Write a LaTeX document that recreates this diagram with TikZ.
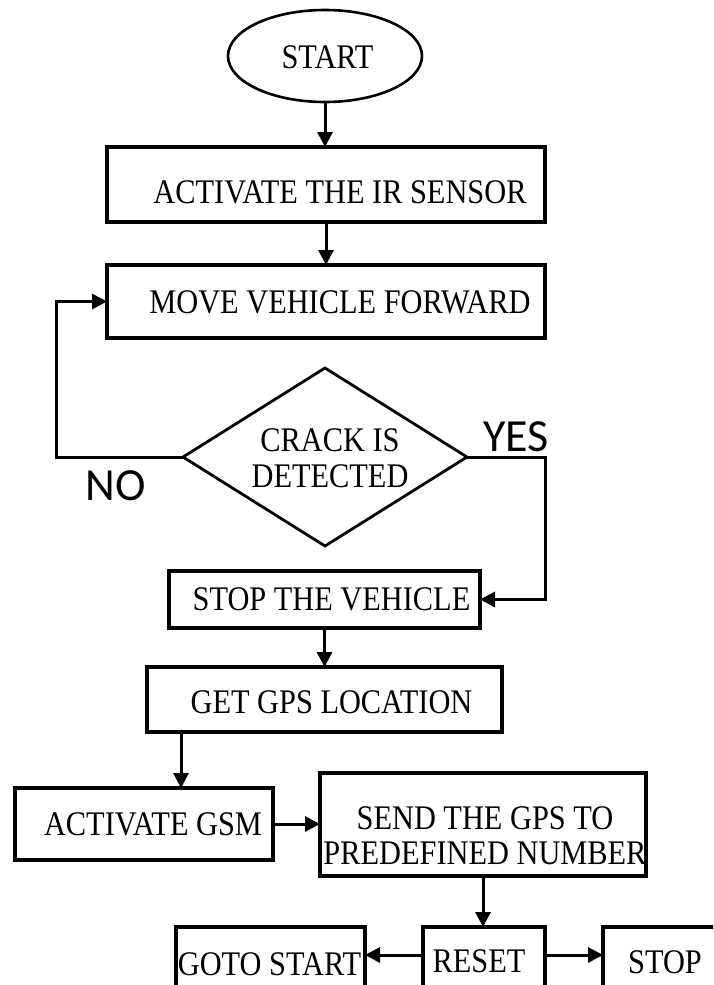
\documentclass[tikz,border=0pt]{standalone}
\usepackage{fontspec}
\setmainfont{Liberation Serif}[FakeStretch=0.88]
\newfontfamily\yesnofont{Carlito}
\usetikzlibrary{shapes.geometric,arrows.meta}
\begin{document}
\begin{tikzpicture}[x=1pt,y=-1pt,
  box/.style={draw,line width=3.2pt,rectangle,inner sep=0pt,outer sep=0pt},
  lbl/.style={font=\fontsize{34.5}{35.5}\selectfont,inner sep=0pt,align=center},
  arr/.style={line width=3pt,-{Triangle[length=15pt,width=15pt]}},
  yn/.style={font=\yesnofont\fontsize{46}{48}\selectfont,inner sep=0pt}]
\useasboundingbox (0,0) rectangle (713,985);
\clip (0,0) rectangle (713,985);

\node[draw,ellipse,line width=2.6pt,minimum width=194pt,minimum height=92pt,inner sep=0pt,outer sep=0pt,
  label={[lbl,xshift=2.5pt,yshift=-1.5pt]center:START}] (start) at (325,56) {};
\node[box,minimum width=438pt,minimum height=75pt,
  label={[lbl,xshift=14pt,yshift=-8pt]center:ACTIVATE THE IR SENSOR}] (ir) at (326,184.5) {};
\node[box,minimum width=438pt,minimum height=73pt,
  label={[lbl,xshift=14pt,yshift=-1pt]center:MOVE VEHICLE FORWARD}] (move) at (326,301.5) {};
\node[draw,diamond,line width=2.8pt,minimum width=284pt,minimum height=178pt,inner sep=0pt,outer sep=0pt,
  label={[lbl,xshift=5pt,yshift=-1pt]center:CRACK IS\\DETECTED}] (dec) at (325,457) {};
\node[box,minimum width=311pt,minimum height=57pt,
  label={[lbl,xshift=7pt]center:STOP THE VEHICLE}] (stopv) at (324.5,599.5) {};
\node[box,minimum width=355pt,minimum height=65pt,
  label={[lbl,xshift=7pt,yshift=-2.5pt]center:GET GPS LOCATION}] (gps) at (324.5,699.5) {};
\node[box,minimum width=258pt,minimum height=72pt,
  label={[lbl,xshift=9pt]center:ACTIVATE GSM}] (gsm) at (144,824) {};
\node[box,minimum width=326pt,minimum height=103pt,
  label={[lbl,xshift=2pt,yshift=-11pt]center:SEND THE GPS TO\\PREDEFINED NUMBER}] (send) at (483,824.5) {};
\node[box,minimum width=189pt,minimum height=72pt,
  label={[lbl,xshift=-1pt,yshift=-1pt]center:GOTO START}] (goto) at (270.5,963) {};
\node[box,minimum width=122pt,minimum height=72pt,
  label={[lbl,xshift=-5pt,yshift=2pt]center:RESET}] (reset) at (484,963) {};
\node[box,minimum width=122pt,minimum height=72pt,
  label={[lbl,xshift=1pt,yshift=1pt]center:STOP}] (stop) at (664,963) {};

\node[yn] (yes) at (516,437) {YES};
\node[yn] (no) at (116,486) {NO};

\coordinate (nocorner) at (56,457);
\coordinate (yescorner) at (545,457);
\coordinate (gsmin) at ([xshift=34pt]gps.south west);

\draw[arr] (start.south) -- (start.south |- ir.north);
\draw[arr] (ir.south) -- (move.north);
\draw[arr] (dec.west) -- (nocorner) |- (move.west);
\draw[arr] (dec.east) -- (yescorner) |- (stopv.east);
\draw[arr] (stopv.south) -- (stopv.south |- gps.north);
\draw[arr] (gsmin) -- (gsmin |- gsm.north);
\draw[arr] (gsm.east) -- (gsm.east -| send.west);
\draw[arr] (send.south) -- (send.south |- reset.north);
\draw[arr] ([yshift=8pt]reset.west) -- ([yshift=8pt]reset.west -| goto.east);
\draw[arr] ([yshift=8pt]reset.east) -- ([yshift=8pt]reset.east -| stop.west);
\end{tikzpicture}
\end{document}
